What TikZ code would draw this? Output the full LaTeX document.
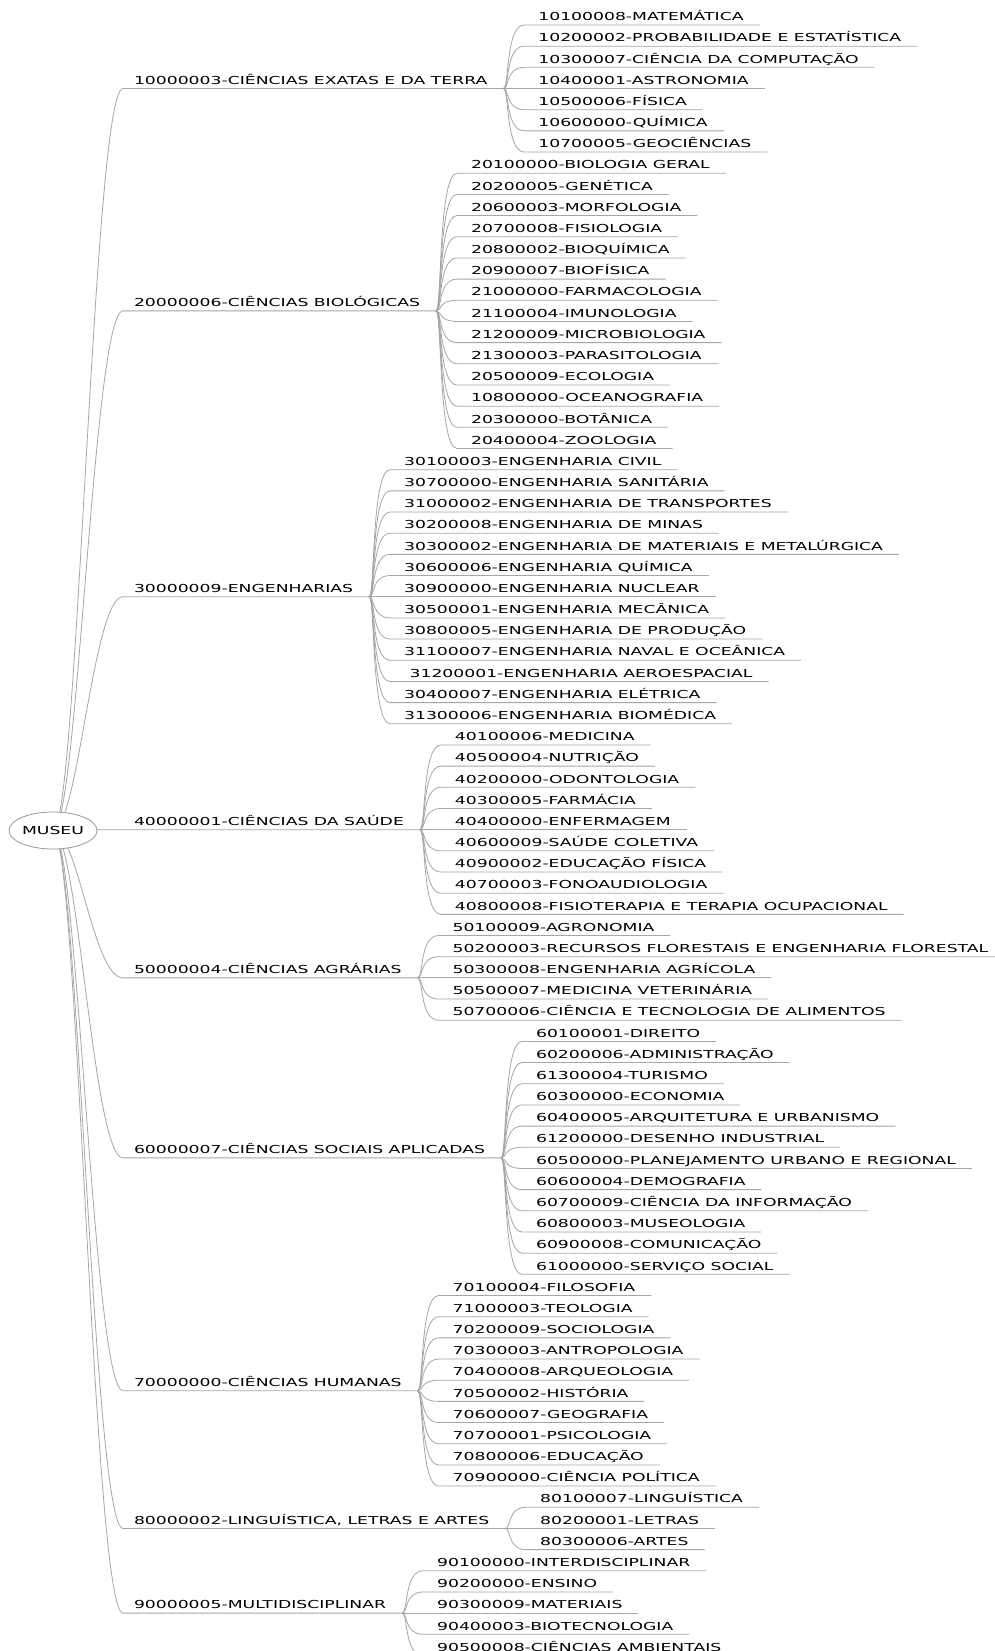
\documentclass[tikz,border=0pt]{standalone}
\usepackage{fontspec}
\setmainfont{DejaVu Sans}[FakeStretch=1.565]
\usetikzlibrary{calc,backgrounds,shapes.geometric}
\newcommand\mmcat[4]{%
  \pgfmathsetmacro\mmy{25+21.175*(#2+#3)/2-4.3}%
  \node[cat] (#1) at (134,\mmy) {#4};
  \coordinate (#1in) at ([shift={(-11,4.3)}]#1.base west);
  \coordinate (#1out) at ([shift={(16,4.3)}]#1.base east);
  \begin{scope}[on background layer]
    \draw[edge] (root.center) .. controls +(25,0) and +(-30,0) .. (#1in) -- (#1out);
  \end{scope}
}
\newcommand\mmleaf[3]{%
  \pgfmathsetmacro\mmly{25+21.175*#2-4.3}%
  \coordinate (kx) at ([xshift=35pt]#1out);
  \coordinate (ky) at (0,\mmly);
  \node[leaf] (l#2) at (kx |- ky) {#3};
  \coordinate (l#2in) at ([shift={(-14,4.3)}]l#2.base west);
  \coordinate (l#2end) at ([shift={(16,4.3)}]l#2.base east);
  \begin{scope}[on background layer]
    \draw[edge] (#1out) .. controls +(6,0) and +(-19,0) .. (l#2in) -- (l#2end);
  \end{scope}
}
\begin{document}
\begin{tikzpicture}[x=1pt,y=-1pt,
  edge/.style={draw=black!35, line width=0.8pt},
  leaf/.style={anchor=base west, inner sep=0pt, outer sep=0pt, font=\fontsize{11}{13}\selectfont, text=black},
  cat/.style={leaf},
  rootnode/.style={ellipse, draw=black!40, line width=0.8pt, fill=white, minimum width=88pt, minimum height=37pt, inner sep=0pt, font=\fontsize{11}{13}\selectfont, text=black}
]
\useasboundingbox (0,0) rectangle (995,1651);
\begin{scope}[on background layer]
  \fill[white] (0,0) rectangle (995,1651);
\end{scope}
\node[rootnode] (root) at (53,830.5) {MUSEU};

\mmcat{c1}{0}{6}{10000003-CIÊNCIAS EXATAS E DA TERRA}
\mmleaf{c1}{0}{10100008-MATEMÁTICA}
\mmleaf{c1}{1}{10200002-PROBABILIDADE E ESTATÍSTICA}
\mmleaf{c1}{2}{10300007-CIÊNCIA DA COMPUTAÇÃO}
\mmleaf{c1}{3}{10400001-ASTRONOMIA}
\mmleaf{c1}{4}{10500006-FÍSICA}
\mmleaf{c1}{5}{10600000-QUÍMICA}
\mmleaf{c1}{6}{10700005-GEOCIÊNCIAS}

\mmcat{c2}{7}{20}{20000006-CIÊNCIAS BIOLÓGICAS}
\mmleaf{c2}{7}{20100000-BIOLOGIA GERAL}
\mmleaf{c2}{8}{20200005-GENÉTICA}
\mmleaf{c2}{9}{20600003-MORFOLOGIA}
\mmleaf{c2}{10}{20700008-FISIOLOGIA}
\mmleaf{c2}{11}{20800002-BIOQUÍMICA}
\mmleaf{c2}{12}{20900007-BIOFÍSICA}
\mmleaf{c2}{13}{21000000-FARMACOLOGIA}
\mmleaf{c2}{14}{21100004-IMUNOLOGIA}
\mmleaf{c2}{15}{21200009-MICROBIOLOGIA}
\mmleaf{c2}{16}{21300003-PARASITOLOGIA}
\mmleaf{c2}{17}{20500009-ECOLOGIA}
\mmleaf{c2}{18}{10800000-OCEANOGRAFIA}
\mmleaf{c2}{19}{20300000-BOTÂNICA}
\mmleaf{c2}{20}{20400004-ZOOLOGIA}

\mmcat{c3}{21}{33}{30000009-ENGENHARIAS}
\mmleaf{c3}{21}{30100003-ENGENHARIA CIVIL}
\mmleaf{c3}{22}{30700000-ENGENHARIA SANITÁRIA}
\mmleaf{c3}{23}{31000002-ENGENHARIA DE TRANSPORTES}
\mmleaf{c3}{24}{30200008-ENGENHARIA DE MINAS}
\mmleaf{c3}{25}{30300002-ENGENHARIA DE MATERIAIS E METALÚRGICA}
\mmleaf{c3}{26}{30600006-ENGENHARIA QUÍMICA}
\mmleaf{c3}{27}{30900000-ENGENHARIA NUCLEAR}
\mmleaf{c3}{28}{30500001-ENGENHARIA MECÂNICA}
\mmleaf{c3}{29}{30800005-ENGENHARIA DE PRODUÇÃO}
\mmleaf{c3}{30}{31100007-ENGENHARIA NAVAL E OCEÂNICA}
\mmleaf{c3}{31}{\ 31200001-ENGENHARIA AEROESPACIAL}
\mmleaf{c3}{32}{30400007-ENGENHARIA ELÉTRICA}
\mmleaf{c3}{33}{31300006-ENGENHARIA BIOMÉDICA}

\mmcat{c4}{34}{42}{40000001-CIÊNCIAS DA SAÚDE}
\mmleaf{c4}{34}{40100006-MEDICINA}
\mmleaf{c4}{35}{40500004-NUTRIÇÃO}
\mmleaf{c4}{36}{40200000-ODONTOLOGIA}
\mmleaf{c4}{37}{40300005-FARMÁCIA}
\mmleaf{c4}{38}{40400000-ENFERMAGEM}
\mmleaf{c4}{39}{40600009-SAÚDE COLETIVA}
\mmleaf{c4}{40}{40900002-EDUCAÇÃO FÍSICA}
\mmleaf{c4}{41}{40700003-FONOAUDIOLOGIA}
\mmleaf{c4}{42}{40800008-FISIOTERAPIA E TERAPIA OCUPACIONAL}

\mmcat{c5}{43}{47}{50000004-CIÊNCIAS AGRÁRIAS}
\mmleaf{c5}{43}{50100009-AGRONOMIA}
\mmleaf{c5}{44}{50200003-RECURSOS FLORESTAIS E ENGENHARIA FLORESTAL}
\mmleaf{c5}{45}{50300008-ENGENHARIA AGRÍCOLA}
\mmleaf{c5}{46}{50500007-MEDICINA VETERINÁRIA}
\mmleaf{c5}{47}{50700006-CIÊNCIA E TECNOLOGIA DE ALIMENTOS}

\mmcat{c6}{48}{59}{60000007-CIÊNCIAS SOCIAIS APLICADAS}
\mmleaf{c6}{48}{60100001-DIREITO}
\mmleaf{c6}{49}{60200006-ADMINISTRAÇÃO}
\mmleaf{c6}{50}{61300004-TURISMO}
\mmleaf{c6}{51}{60300000-ECONOMIA}
\mmleaf{c6}{52}{60400005-ARQUITETURA E URBANISMO}
\mmleaf{c6}{53}{61200000-DESENHO INDUSTRIAL}
\mmleaf{c6}{54}{60500000-PLANEJAMENTO URBANO E REGIONAL}
\mmleaf{c6}{55}{60600004-DEMOGRAFIA}
\mmleaf{c6}{56}{60700009-CIÊNCIA DA INFORMAÇÃO}
\mmleaf{c6}{57}{60800003-MUSEOLOGIA}
\mmleaf{c6}{58}{60900008-COMUNICAÇÃO}
\mmleaf{c6}{59}{61000000-SERVIÇO SOCIAL}

\mmcat{c7}{60}{69}{70000000-CIÊNCIAS HUMANAS}
\mmleaf{c7}{60}{70100004-FILOSOFIA}
\mmleaf{c7}{61}{71000003-TEOLOGIA}
\mmleaf{c7}{62}{70200009-SOCIOLOGIA}
\mmleaf{c7}{63}{70300003-ANTROPOLOGIA}
\mmleaf{c7}{64}{70400008-ARQUEOLOGIA}
\mmleaf{c7}{65}{70500002-HISTÓRIA}
\mmleaf{c7}{66}{70600007-GEOGRAFIA}
\mmleaf{c7}{67}{70700001-PSICOLOGIA}
\mmleaf{c7}{68}{70800006-EDUCAÇÃO}
\mmleaf{c7}{69}{70900000-CIÊNCIA POLÍTICA}

\mmcat{c8}{70}{72}{80000002-LINGUÍSTICA, LETRAS E ARTES}
\mmleaf{c8}{70}{80100007-LINGUÍSTICA}
\mmleaf{c8}{71}{80200001-LETRAS}
\mmleaf{c8}{72}{80300006-ARTES}

\mmcat{c9}{73}{77}{90000005-MULTIDISCIPLINAR}
\mmleaf{c9}{73}{90100000-INTERDISCIPLINAR}
\mmleaf{c9}{74}{90200000-ENSINO}
\mmleaf{c9}{75}{90300009-MATERIAIS}
\mmleaf{c9}{76}{90400003-BIOTECNOLOGIA}
\mmleaf{c9}{77}{90500008-CIÊNCIAS AMBIENTAIS}
\end{tikzpicture}
\end{document}
